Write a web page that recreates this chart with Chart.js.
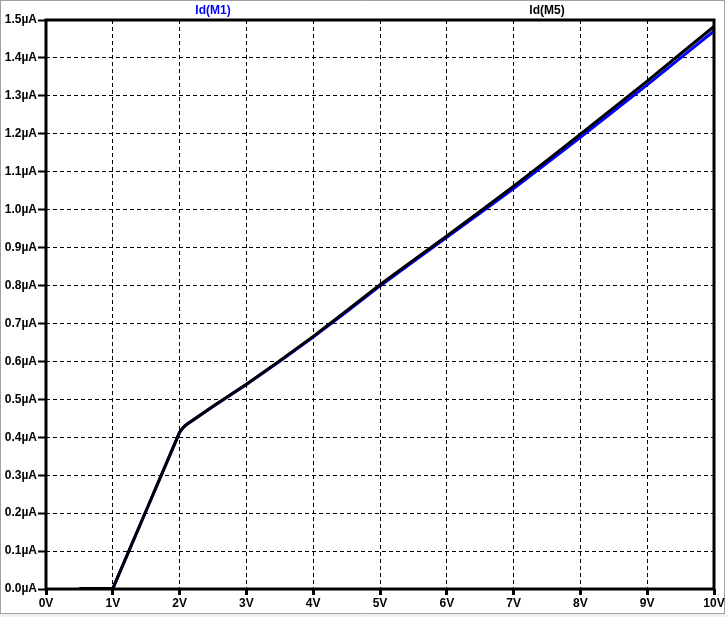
<!DOCTYPE html>
<html><head><meta charset="utf-8">
<script src="https://cdn.jsdelivr.net/npm/chart.js@4/dist/chart.umd.min.js"></script>
<style>html,body{margin:0;padding:0;background:#fff;overflow:hidden}canvas{display:block}</style>
</head><body><canvas id="c" width="728" height="617"></canvas>
<script>
const voltages = [0.5, 1, 1.5, 2, 2.05, 2.1, 2.5, 3, 3.5, 4, 4.5, 5, 5.5, 6, 6.5, 7, 7.5, 8, 8.5, 9, 9.5, 10];
const idM1 = [0.001, 0.001, 0.207, 0.413, 0.425, 0.433, 0.481, 0.539, 0.600, 0.664, 0.731, 0.799, 0.863, 0.927, 0.991, 1.056, 1.123, 1.191, 1.260, 1.329, 1.400, 1.471];
const idM5 = [0.001, 0.001, 0.207, 0.413, 0.425, 0.433, 0.482, 0.540, 0.602, 0.666, 0.734, 0.802, 0.867, 0.931, 0.996, 1.062, 1.130, 1.199, 1.269, 1.339, 1.411, 1.483];
const xTickLabels = ['0V','1V','2V','3V','4V','5V','6V','7V','8V','9V','10V'];
const yTickLabels = ['0.0µA','0.1µA','0.2µA','0.3µA','0.4µA','0.5µA','0.6µA','0.7µA','0.8µA','0.9µA','1.0µA','1.1µA','1.2µA','1.3µA','1.4µA','1.5µA'];
const seriesNames = ['Id(M1)', 'Id(M5)'];
const seriesColors = ['#0000ff', '#000000'];

const FONT = 'Liberation Sans, Arial, sans-serif';

const framePlugin = {
  id: 'frame',
  beforeDraw(chart) {
    const ctx = chart.ctx;
    ctx.save();
    ctx.fillStyle = '#ffffff';
    ctx.fillRect(0, 0, chart.width, chart.height);
    ctx.fillStyle = '#f0f0f0';
    ctx.fillRect(0, 614, chart.width, chart.height - 614);
    ctx.strokeStyle = '#a0a0a0';
    ctx.lineWidth = 1;
    ctx.beginPath();
    ctx.moveTo(0.5, 0); ctx.lineTo(0.5, 614);
    ctx.moveTo(0, 0.5); ctx.lineTo(725, 0.5);
    ctx.moveTo(724.5, 0); ctx.lineTo(724.5, 614);
    ctx.moveTo(0, 613.5); ctx.lineTo(725, 613.5);
    ctx.stroke();
    ctx.restore();
  },
  afterDraw(chart) {
    const ctx = chart.ctx;
    const a = chart.chartArea;
    ctx.save();
    ctx.strokeStyle = '#000';
    ctx.lineWidth = 3;
    ctx.strokeRect(a.left, a.top, a.right - a.left, a.bottom - a.top);
    ctx.font = 'bold 12px ' + FONT;
    ctx.textAlign = 'center';
    ctx.textBaseline = 'middle';
    const w = a.right - a.left;
    seriesNames.forEach((n, i) => {
      ctx.fillStyle = seriesColors[i];
      ctx.fillText(n, a.left + w * (0.25 + 0.5 * i), 11);
    });
    ctx.restore();
  }
};

new Chart(document.getElementById('c'), {
  type: 'line',
  data: {
    datasets: [
      { label: seriesNames[0], data: voltages.map((v, i) => ({x: v, y: idM1[i]})), borderColor: seriesColors[0], borderWidth: 3, pointRadius: 0, tension: 0, fill: false, order: 1 },
      { label: seriesNames[1], data: voltages.map((v, i) => ({x: v, y: idM5[i]})), borderColor: seriesColors[1], borderWidth: 3, pointRadius: 0, tension: 0, fill: false, order: 0 }
    ]
  },
  options: {
    responsive: false,
    animation: false,
    devicePixelRatio: 1,
    layout: { padding: { left: 0, top: 20, right: 14, bottom: 0 } },
    plugins: { legend: { display: false }, tooltip: { enabled: false } },
    scales: {
      x: {
        type: 'linear', min: 0, max: 10,
        afterFit(s) { s.height = 28; },
        ticks: { stepSize: 1, padding: 1, color: '#000', font: { family: FONT, size: 12, weight: 'bold' }, maxRotation: 0,
          callback: (v) => xTickLabels[Math.round(v)] },
        grid: { color: '#000', lineWidth: 1, drawTicks: true, tickLength: 6, tickWidth: 3, tickColor: '#000', tickBorderDash: [] },
        border: { display: false, dash: [4, 3] }
      },
      y: {
        type: 'linear', min: 0, max: 1.5,
        afterFit(s) { s.width = 46; },
        ticks: { stepSize: 0.1, padding: 1, color: '#000', font: { family: FONT, size: 12, weight: 'bold' },
          callback: (v) => yTickLabels[Math.round(v * 10)] },
        grid: { color: '#000', lineWidth: 1, drawTicks: true, tickLength: 8, tickWidth: 2, tickColor: '#000', tickBorderDash: [] },
        border: { display: false, dash: [4, 3] }
      }
    }
  },
  plugins: [framePlugin]
});
</script>
</body></html>
